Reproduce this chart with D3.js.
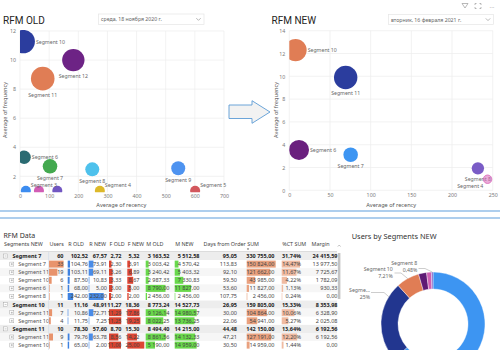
<!DOCTYPE html>
<html><head><meta charset="utf-8">
<script src="https://cdn.jsdelivr.net/npm/d3@7"></script>
<style>
html,body{margin:0;padding:0;background:#fff;overflow:hidden;}
svg{display:block;}
</style></head><body>
<svg id="c" width="500" height="350"></svg>
<script>
// ================= DATA =================
// RFM OLD bubbles
const oldSegments  = ["Segment 10","Segment 12","Segment 11","Segment 6","Segment 7","Segment 8","Segment 9","Segment 1","Segment 2","Segment 3","Segment 4","Segment 5"];
const oldRecency   = [11, 183, 78, 14, 103, 248, 543, 65, 128, 20, 274, 601];
const oldFrequency = [11.27, 10.0, 8.72, 3.31, 2.69, 2.48, 2.55, 1, 1, 1, 1, 1];
const oldSize      = [137, 125, 139, 45, 53, 49, 49, 25, 25, 25, 25, 25];
const oldXTicks = [0, 100, 200, 300, 400, 500, 600, 700];
const oldYTicks = [2, 4, 6, 8, 10, 12];

// RFM NEW bubbles
const newSegments  = ["Segment 10","Segment 11","Segment 6","Segment 7","Segment 8","Segment 4"];
const newRecency   = [7.6, 69.3, 11.9, 75.4, 231.8, 243.7];
const newFrequency = [12.3, 9.9, 3.54, 3.12, 1.93, 0.97];
const newSize      = [125, 137, 100, 53, 38, 18];
const newXTicks = [0, 50, 100, 150, 200, 250];
const newYTicks = [0, 2, 4, 6, 8, 10, 12, 14];

// Donut: Users by Segments NEW (share, %)
const donutSegments = ["Segment 7","Segment 11","Segment 10","Segment 6","Segment 4","Segment 8"];
const donutShare    = [63.31, 25.0, 7.21, 2.5, 1.5, 0.48];

// Table: RFM Data
const tableHeaders = ["Segments NEW","Users","R OLD","R NEW","F OLD","F NEW","M OLD","M NEW","Days from Order","SUM","%CT SUM","Margin"];
const rowNames  = ["Segment 7","Segment 7","Segment 11","Segment 10","Segment 6","Segment 8","Segment 10","Segment 11","Segment 10","Segment 11","Segment 11","Segment 10"];
const rowLevel  = [0,1,1,1,1,1,0,1,1,0,1,1];
const users     = [60,33,19,6,1,1,11,7,4,10,9,1];
const rOld      = [102.52,104.76,103.11,87.50,68.00,242.00,11.16,10.86,11.75,78.30,79.76,65.00];
const rNew      = [67.57,73.91,69.11,10.83,5.00,232.00,48.91,72.71,7.25,57.60,63.78,2.00];
const fOld      = [2.72,2.30,3.26,3.33,3.00,2.00,11.27,11.29,11.25,8.70,8.56,11.00];
const fNew      = [5.32,3.91,6.89,8.67,5.00,2.00,18.36,17.86,19.25,15.30,14.22,25.00];
const mOld      = [3163.52,3003.42,3240.42,2987.33,8790.00,2456.00,8773.24,9126.14,8022.25,8494.40,8861.56,5190.00];
const mNew      = [5512.58,4570.42,5403.32,7330.83,11827.00,2456.00,14527.73,14980.57,13736.25,14215.00,14132.33,14959.00];
const daysFromOrder = [95.05,113.83,92.10,59.50,53.60,107.75,26.95,30.00,22.06,44.48,47.21,30.50];
const sumValues = [330755,150824,121662,43985,11827,2456,159805,104864,54941,142150,127191,14959];
const pctSum    = [31.74,14.47,11.67,4.22,1.13,0.24,15.33,10.06,5.27,13.64,12.20,1.44];
const margin    = [24415.59,13977.50,7725.67,1782.09,930.33,0.00,8353.98,6328.90,2025.08,6192.56,6192.56,0.00];

// ================= STYLE =================
const FONT = "'Noto Sans', 'Open Sans', sans-serif";
const TFONT = "Roboto, 'Noto Sans', sans-serif";
const segColor = {
  old: {"Segment 10":"#2B3D9E","Segment 12":"#6D2385","Segment 11":"#E07D55","Segment 6":"#2A6B72",
        "Segment 7":"#43A94F","Segment 8":"#4EC1EC","Segment 9":"#4E93F0","Segment 3":"#3C8CF0",
        "Segment 1":"#D15DB5","Segment 2":"#7257C2","Segment 4":"#DDB92A","Segment 5":"#D2575D"},
  nw:  {"Segment 10":"#E07D55","Segment 11":"#2B3D9E","Segment 6":"#6A1F7E","Segment 7":"#3D95F2",
        "Segment 8":"#7A5CC6","Segment 4":"#D966B8"}
};
const donutColor = {"Segment 7":"#3D95F2","Segment 11":"#22368F","Segment 10":"#E07D55","Segment 6":"#5E1A74","Segment 4":"#CF5FB2","Segment 8":"#7A5CC6"};
const oldLabelPos = {"Segment 10":"right","Segment 12":"below","Segment 11":"below","Segment 6":"right","Segment 7":"below",
  "Segment 8":"below","Segment 9":"below","Segment 3":"topright","Segment 1":"none","Segment 2":"none","Segment 4":"topright","Segment 5":"topright"};
const newLabelPos = {"Segment 10":"right","Segment 11":"below","Segment 6":"right","Segment 7":"below","Segment 8":"below","Segment 4":"bottomleft"};

const svg = d3.select("#c");
svg.append("rect").attr("width",500).attr("height",350).attr("fill","#fff");
const defs = svg.append("defs");

// ================= BUBBLE CHARTS =================
function bubbleChart(o) {
  const g = svg.append("g");
  const x = d3.scaleLinear().domain(o.xDomain).range(o.xRange);
  const y = d3.scaleLinear().domain(o.yDomain).range(o.yRange);
  const r = d3.scaleSqrt().domain([0,144]).range([0,12]);
  const top = y(o.yDomain[1]), bottom = y(o.yDomain[0]);
  g.selectAll(null).data(o.xTicks).join("line")
    .attr("x1",d=>x(d)).attr("x2",d=>x(d)).attr("y1",top).attr("y2",bottom)
    .attr("stroke","#EDEDED").attr("stroke-width",0.7);
  g.selectAll(null).data(o.yTicks).join("line")
    .attr("x1",o.xRange[0]).attr("x2",o.xRange[1]).attr("y1",d=>y(d)).attr("y2",d=>y(d))
    .attr("stroke","#EDEDED").attr("stroke-width",0.7);
  const ax = g.append("g").attr("transform",`translate(0,${bottom})`)
    .call(d3.axisBottom(x).tickValues(o.xTicks).tickSize(0).tickPadding(o.xPad));
  const ay = g.append("g").attr("transform",`translate(${o.xRange[0]},0)`)
    .call(d3.axisLeft(y).tickValues(o.yTicks).tickSize(0).tickPadding(4));
  [ax,ay].forEach(a=>{
    a.select(".domain").remove();
    a.attr("font-family",FONT).attr("font-size",5.3);
    a.selectAll("text").attr("fill","#7a7a7a");
  });
  g.append("text").attr("x",(o.xRange[0]+o.xRange[1])/2 + o.xTitleShift).attr("y",204.5)
    .attr("text-anchor","middle").attr("dominant-baseline","central")
    .attr("font-family",FONT).attr("font-size",5.6).attr("fill","#555").text("Average of recency");
  g.append("text").attr("transform",`translate(${o.yTitleX},110) rotate(-90)`)
    .attr("text-anchor","middle").attr("dominant-baseline","central")
    .attr("font-family",FONT).attr("font-size",5.6).attr("fill","#555").text("Average of frequency");
  defs.append("clipPath").attr("id",o.id).append("rect")
    .attr("x",o.xRange[0]).attr("y",top-1).attr("width",o.xRange[1]-o.xRange[0]+15).attr("height",bottom-top+1);
  o.segments.forEach((s,i)=>{
    const cx = x(o.recency[i]), cy = y(o.frequency[i]), rr = r(o.size[i]);
    const c = g.append("circle").attr("clip-path",`url(#${o.id})`)
      .attr("cx",cx).attr("cy",cy).attr("r",rr).attr("fill",o.colors[s]);
    if (o.faded && o.faded[s]) c.attr("fill-opacity",0.55).attr("stroke",o.colors[s]).attr("stroke-width",0.8);
    const pos = o.labelPos[s];
    if (pos === "none") return;
    const t = g.append("text").attr("font-family",FONT).attr("font-size",5.2).attr("fill","#666")
      .attr("dominant-baseline","central").text(s);
    if (pos === "right") t.attr("x",cx+rr+1).attr("y",cy).attr("text-anchor","start");
    else if (pos === "below") t.attr("x",cx).attr("y",cy+rr+4.3).attr("text-anchor","middle");
    else if (pos === "topright") t.attr("x",cx+rr).attr("y",cy-6).attr("text-anchor","start");
    else if (pos === "bottomleft") t.attr("x",cx-rr).attr("y",cy+6.7).attr("text-anchor","end");
  });
  svg.append("text").attr("x",o.titleX).attr("y",23.5).attr("font-family",TFONT)
    .attr("font-size",10).attr("fill","#252423").text(o.title);
  const d = o.drop;
  svg.append("rect").attr("x",d.x).attr("y",d.y).attr("width",d.w).attr("height",d.h)
    .attr("fill","#fff").attr("stroke","#E6E6E6").attr("stroke-width",0.7);
  svg.append("text").attr("x",d.x+2.5).attr("y",d.y+d.h/2).attr("dominant-baseline","central")
    .attr("font-family",FONT).attr("font-size",5.2).attr("fill","#666").text(d.text);
  const chx = d.x+d.w-5.5, chy = d.y+d.h/2;
  svg.append("path").attr("d",`M${chx-2.2},${chy-1.1} L${chx},${chy+1.1} L${chx+2.2},${chy-1.1}`)
    .attr("fill","none").attr("stroke","#888").attr("stroke-width",0.6);
}

bubbleChart({
  id:"clipOld", title:"RFM OLD", titleX:3,
  segments:oldSegments, recency:oldRecency, frequency:oldFrequency, size:oldSize,
  colors:segColor.old, labelPos:oldLabelPos,
  xDomain:[0,700], xRange:[20,224], yDomain:[0.9,12], yRange:[192.3,31],
  xTicks:oldXTicks, yTicks:oldYTicks, xPad:1.8, yTitleX:5, xTitleShift:-0.7,
  drop:{x:98.5,y:14,w:105.5,h:10.5,text:"среда, 18 ноября 2020 г."}
});
bubbleChart({
  id:"clipNew", title:"RFM NEW", titleX:271.5,
  segments:newSegments, recency:newRecency, frequency:newFrequency, size:newSize,
  colors:segColor.nw, labelPos:newLabelPos, faded:{"Segment 4":true},
  xDomain:[0,250], xRange:[289.3,492.7], yDomain:[0,14], yRange:[190.3,30.7],
  xTicks:newXTicks, yTicks:newYTicks, xPad:3.2, yTitleX:276, xTitleShift:0.2,
  drop:{x:388.5,y:14.5,w:105,h:10,text:"вторник, 16 февраля 2021 г."}
});

// visual header icons (top right)
const ic = svg.append("g").attr("stroke","#8a8a8a").attr("fill","none").attr("stroke-width",0.6);
ic.append("path").attr("d","M462,3.5 L468,3.5 L465,8 Z");
ic.append("path").attr("d","M475,5 L475,3.5 L476.5,3.5 M479.5,3.5 L481,3.5 L481,5 M481,7 L481,8.5 L479.5,8.5 M476.5,8.5 L475,8.5 L475,7");
svg.append("text").attr("x",492).attr("y",6.5).attr("text-anchor","middle").attr("dominant-baseline","central")
  .attr("font-family",FONT).attr("font-size",6).attr("fill","#777").text("···");

// arrow between charts
svg.append("path")
  .attr("d","M229,105 L252,105 L252,100.7 L270,112 L252,123.3 L252,118.5 L229,118.5 Z")
  .attr("fill","#F2F2F2").attr("stroke","#5B9BD5").attr("stroke-width",0.9);

// blue separator lines
[211,218].forEach(yy=>svg.append("line").attr("x1",0).attr("x2",500).attr("y1",yy).attr("y2",yy)
  .attr("stroke","#5F9EDB").attr("stroke-width",1.2));

// ================= TABLE =================
const ru = d3.formatLocale({decimal:",", thousands:"\u00a0", grouping:[3], currency:["",""]});
const f2 = ru.format(",.2f"), f0 = ru.format(",.0f"), fp = v => ru.format(".2f")(v)+"%";
const cols = [
  {vals:users, fmt:f0, x0:49,   right:63.5,  bar:"#E8936C", dom:[0,33],     w:14.6},
  {vals:rOld,  fmt:f2, x0:67.7, right:88,    bar:"#3F82E0", dom:[0,900],    w:20},
  {vals:rNew,  fmt:f2, x0:88.7, right:107,   bar:"#4A8CE8", dom:[0,232],    w:15},
  {vals:fOld,  fmt:f2, x0:109,  right:121.5, bar:"#D9432F", dom:[0,11.3],   w:12.3},
  {vals:fNew,  fmt:f2, x0:127.3,right:139.5, bar:"#DE4534", dom:[0,25],     w:17},
  {vals:mOld,  fmt:f2, x0:145.7,right:169.5, bar:"#69D84B", dom:[2000,9200],w:21},
  {vals:mNew,  fmt:f2, x0:174.7,right:199.5, bar:"#69D84B", dom:[2400,15000],w:22},
  {vals:daysFromOrder, fmt:f2, x0:203, right:237, bar:null},
  {vals:sumValues, fmt:f2, x0:246.7, right:274.5, bar:"#E9A17F", dom:[0,150824], w:29},
  {vals:pctSum, fmt:fp, x0:281.7, right:301, bar:"#F0BBA2", dom:[0,14.47], w:18.3},
  {vals:margin, fmt:f2, x0:311, right:337.5, bar:null}
];
const tg = svg.append("g").attr("font-family",FONT);
tg.append("text").attr("x",3.5).attr("y",235).attr("dominant-baseline","central")
  .attr("font-size",7).attr("fill","#333").text("RFM Data");
const headY = 243.8;
tg.append("text").attr("x",4).attr("y",headY).attr("dominant-baseline","central")
  .attr("font-size",5.4).attr("fill","#444").text(tableHeaders[0]);
cols.forEach((c,j)=>tg.append("text").attr("x",c.x0+0.5).attr("y",headY).attr("dominant-baseline","central")
  .attr("font-size",5.4).attr("fill","#444").text(tableHeaders[j+1]));
tg.append("path").attr("d","M246.8,248.6 L249.2,248.6 L248,250 Z").attr("fill","#555");
tg.append("line").attr("x1",0).attr("x2",337).attr("y1",251.6).attr("y2",251.6).attr("stroke","#BDBDBD").attr("stroke-width",0.6);

const rowH = 8.1, row0 = 256;
defs.append("clipPath").attr("id","clipTable").append("rect").attr("x",0).attr("y",252).attr("width",345).attr("height",98);
const body = tg.append("g").attr("clip-path","url(#clipTable)");
let leafCount = 0;
rowNames.forEach((name,i)=>{
  const cy = row0 + i*rowH;
  const lvl = rowLevel[i];
  let bg = "#fff";
  if (lvl===0) bg = "#EDEDED"; else { bg = (leafCount%2===1) ? "#F6F6F6" : "#fff"; leafCount++; }
  body.append("rect").attr("x",0).attr("y",cy-rowH/2).attr("width",337).attr("height",rowH).attr("fill",bg);
  const ix = lvl===0 ? 3.6 : 9.8;
  body.append("rect").attr("x",ix).attr("y",cy-2).attr("width",4).attr("height",4)
    .attr("fill","#fff").attr("stroke","#9a9a9a").attr("stroke-width",0.4);
  body.append("line").attr("x1",ix+1).attr("x2",ix+3).attr("y1",cy).attr("y2",cy).attr("stroke","#777").attr("stroke-width",0.4);
  if (lvl===1) body.append("line").attr("x1",ix+2).attr("x2",ix+2).attr("y1",cy-1).attr("y2",cy+1).attr("stroke","#777").attr("stroke-width",0.4);
  body.append("text").attr("x",lvl===0?12.5:18.3).attr("y",cy).attr("dy","0.35em")
    .attr("font-size",5.5).attr("font-weight",lvl===0?700:400).attr("fill",lvl===0?"#222":"#555").text(name);
  cols.forEach(c=>{
    const v = c.vals[i];
    if (lvl===1 && c.bar) {
      const s = d3.scaleLinear().domain(c.dom).range([0,c.w]).clamp(true);
      body.append("rect").attr("x",c.x0).attr("y",cy-3.5).attr("width",Math.max(0.6,s(v))).attr("height",7).attr("fill",c.bar);
    }
    body.append("text").attr("x",c.right).attr("y",cy).attr("dy","0.35em").attr("text-anchor","end")
      .attr("font-size",5.5).attr("font-weight",lvl===0?700:400).attr("fill",lvl===0?"#222":"#444").text(c.fmt(v));
  });
});
tg.append("line").attr("x1",48.6).attr("x2",48.6).attr("y1",252).attr("y2",350).attr("stroke","#C9D7E6").attr("stroke-width",0.5);
tg.append("path").attr("d","M337.8,246.6 L339.2,245 L340.6,246.6").attr("fill","none").attr("stroke","#888").attr("stroke-width",0.5);
tg.append("rect").attr("x",337.8).attr("y",253).attr("width",2.6).attr("height",46).attr("fill","#C4C4C4");

// ================= DONUT =================
const dg = svg.append("g").attr("font-family",FONT);
dg.append("text").attr("x",351.7).attr("y",235.7).attr("dominant-baseline","central")
  .attr("font-size",7.4).attr("fill","#333").text("Users by Segments NEW");
const cx = 433, cy = 324, R = 52, r0 = 35;
const pie = d3.pie().sort(null).value(d=>d)(donutShare);
const arc = d3.arc().innerRadius(r0).outerRadius(R);
const donut = dg.append("g").attr("transform",`translate(${cx},${cy})`);
donut.selectAll("path").data(pie).join("path").attr("d",arc)
  .attr("fill",(d,i)=>donutColor[donutSegments[i]]).attr("stroke","#fff").attr("stroke-width",0.4);
const onRing = (a)=>[cx + R*Math.sin(a), cy - R*Math.cos(a)];
const donutLabels = [
  {seg:"Segment 10", l1:"Segment 10", l2:"7,21%",  lx:392.8, ly:269.3, elbow:[[394.5,273],[401,273]], frac:0.5},
  {seg:"Segment 11", l1:"Segme...",   l2:"25%",    lx:370,   ly:290,   elbow:[[371,292.5],[384,292.5]], frac:0.82},
  {seg:"Segment 8",  l1:"Segment 8",  l2:"0,48%",  lx:417.3, ly:263,   elbow:[[418.5,268.5],[425,268.5]], frac:0.5}
];
donutLabels.forEach(L=>{
  const p = pie[donutSegments.indexOf(L.seg)];
  const a = p.startAngle + L.frac*(p.endAngle-p.startAngle);
  const pts = [...L.elbow, onRing(a)];
  dg.append("path").attr("d",d3.line()(pts)).attr("fill","none").attr("stroke","#9a9a9a").attr("stroke-width",0.5);
  dg.append("text").attr("x",L.lx).attr("y",L.ly).attr("text-anchor","end").attr("dominant-baseline","central")
    .attr("font-size",5.2).attr("fill","#666").text(L.l1);
  dg.append("text").attr("x",L.lx).attr("y",L.ly+7).attr("text-anchor","end").attr("dominant-baseline","central")
    .attr("font-size",5.2).attr("fill","#666").text(L.l2);
});
</script>
</body></html>
